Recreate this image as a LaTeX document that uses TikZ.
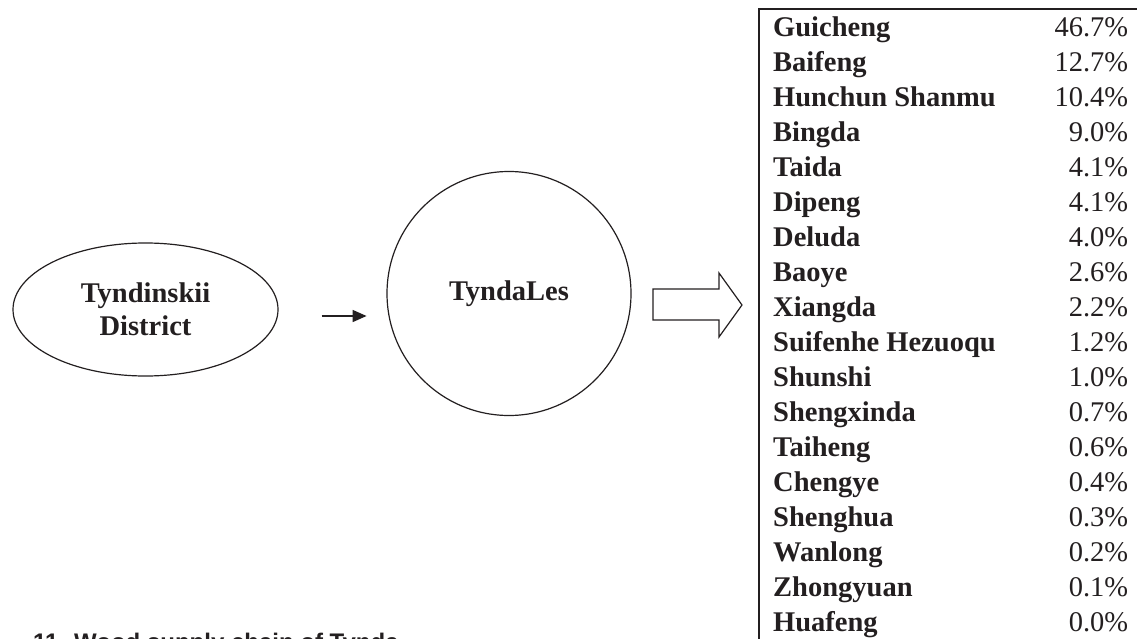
\documentclass[tikz,border=0pt]{standalone}
\usepackage{fontspec}
\setmainfont{Liberation Serif}
\setsansfont{Liberation Sans}
\usepackage{tikz}
\usetikzlibrary{arrows.meta,shapes.geometric}
\definecolor{ink}{HTML}{231F20}

\begin{document}
\begin{tikzpicture}[x=1pt,y=-1pt,color=ink,>={Triangle[length=14pt,width=12pt]},
  main node/.style={draw,line width=1.2pt,inner sep=0pt,align=center,font=\bfseries\fontsize{28.5}{33}\selectfont},
  list node/.style={inner sep=0pt,font=\fontsize{28.5}{35}\selectfont}]
  \useasboundingbox (0,0) rectangle (1137,639);
  \clip (0,0) rectangle (1137,639);
  \node[main node,ellipse,minimum width=265,minimum height=133] (district) at (145.5,309.5) {Tyndinskii\\District};
  \node[main node,circle,minimum size=244] (tyndales) at (509,293.5) {TyndaLes};
  \draw[->,line width=1.5pt] (district.east) ++(43,6.5) -- ++(45,0);
  % block arrow to the list
  \draw[line width=1.2pt] (653,289) -- (719,289) -- (719,273) -- (742,305)
    -- (719,337) -- (719,320) -- (653,320) -- cycle;
  \draw[line width=2pt] (759,660) |- (1160,9);
  \node[list node,anchor=base west] (list) at (773,37) {%
    \begin{tabular*}{355pt}[t]{@{}l@{\extracolsep{\fill}}r@{}}
      \textbf{Guicheng} & 46.7\% \\
      \textbf{Baifeng} & 12.7\% \\
      \textbf{Hunchun Shanmu} & 10.4\% \\
      \textbf{Bingda} & 9.0\% \\
      \textbf{Taida} & 4.1\% \\
      \textbf{Dipeng} & 4.1\% \\
      \textbf{Deluda} & 4.0\% \\
      \textbf{Baoye} & 2.6\% \\
      \textbf{Xiangda} & 2.2\% \\
      \textbf{Suifenhe Hezuoqu} & 1.2\% \\
      \textbf{Shunshi} & 1.0\% \\
      \textbf{Shengxinda} & 0.7\% \\
      \textbf{Taiheng} & 0.6\% \\
      \textbf{Chengye} & 0.4\% \\
      \textbf{Shenghua} & 0.3\% \\
      \textbf{Wanlong} & 0.2\% \\
      \textbf{Zhongyuan} & 0.1\% \\
      \textbf{Huafeng} & 0.0\%
    \end{tabular*}};
  \node[anchor=base west,inner sep=0pt,font=\sffamily\bfseries\fontsize{24}{28}\selectfont] (caption) at (33,650) {11. Wood supply chain of Tynda};
\end{tikzpicture}
\end{document}
